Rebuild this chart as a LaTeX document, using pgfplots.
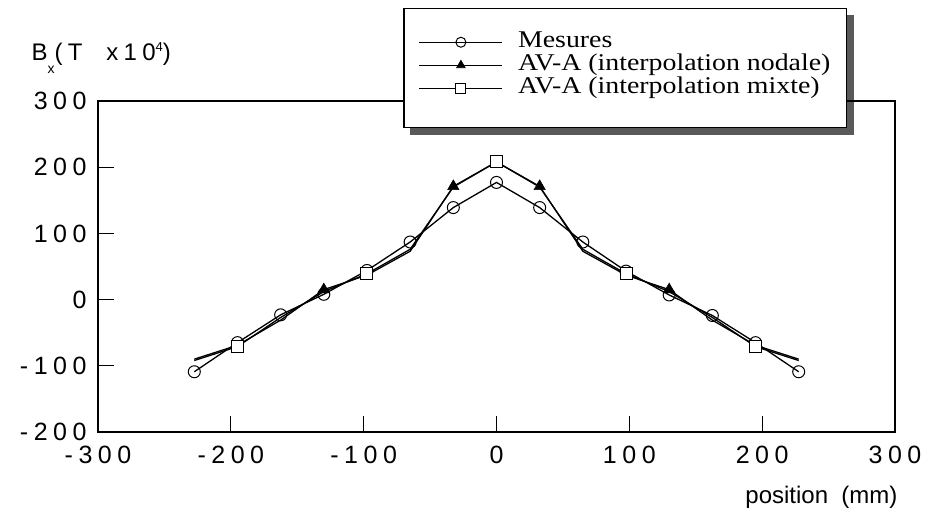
\documentclass[border=0pt]{standalone}
\usepackage{fontspec}
\setmainfont{Liberation Serif}
\newfontfamily\tickfont[LetterSpace=22]{Liberation Sans}
\newfontfamily\plainsans{Liberation Sans}
\newfontfamily\legfont[FakeStretch=1.16]{Liberation Serif}
\usepackage{pgfplots}
\pgfplotsset{compat=1.18}
\usetikzlibrary{backgrounds}

\pgfplotstableread{
x      y
-227.5 -109
-195   -65
-162.5 -23
-130   8
-97.5  44
-65    87
-32.5  139
0      177
32.5   139
65     87
97.5   43
130    7
162.5  -24
195    -65
227.5  -109
}\mesures

\pgfplotstableread{
x      y
-227.5 -90
-195   -69
-162.5 -31
-130   15
-97.5  37
-65    73
-32.5  171
0      208
32.5   171
65     73
97.5   37
130    15
162.5  -31
195    -69
227.5  -90
}\nodale

\pgfplotstableread{
x      y
-227.5 -92
-195   -71
-162.5 -27
-130   12
-97.5  39
-65    76
-32.5  170
0      208
32.5   170
65     76
97.5   39
130    12
162.5  -27
195    -71
227.5  -92
}\mixte

\begin{document}
\begin{tikzpicture}
\path[use as bounding box] (-98pt,-90pt) rectangle (832pt,432pt);
\begin{axis}[
  at={(0pt,0pt)}, anchor=south west,
  scale only axis, width=797pt, height=331pt,
  xmin=-300, xmax=300, ymin=-200, ymax=300,
  xtick={-300,-200,...,300}, ytick={-200,-100,...,300},
  xticklabels={-300,-200,-100,0,100,200,300},
  yticklabels={-200,-100,0,100,200,300},
  tick align=inside, xtick pos=bottom, ytick pos=left,
  major tick length=16pt,
  axis line style={line width=1.2pt},
  every tick/.style={line width=1pt, black},
  ticklabel style={font=\fontsize{25}{30}\selectfont\tickfont},
  xticklabel style={yshift=-11pt},
  yticklabel style={xshift=-8pt},
  every axis y label/.style={at={(axis description cs:0,1)}, anchor=base west, xshift=-70pt, yshift=41pt},
  ylabel={\tickfont\fontsize{24}{28}\selectfont B\raisebox{-13pt}{\fontsize{14}{14}\selectfont x}(T\ \ x10\raisebox{9pt}{\fontsize{13}{13}\selectfont 4})},
  every axis x label/.style={at={(axis description cs:1,0)}, anchor=north east, xshift=6pt, yshift=-51pt},
  xlabel={\plainsans\fontsize{24}{28}\selectfont position\ \ (mm)},
  legend style={name=leg, at={(axis description cs:0.3827,1.281)}, anchor=north west,
    draw=black, line width=1.5pt, fill=white,
    font=\legfont\fontsize{24}{28}\selectfont,
    inner xsep=15pt, inner ysep=22pt, row sep=0pt, column sep=14pt,
    nodes={inner sep=1pt, text height=16pt, text depth=5pt}},
  legend cell align=left,
  legend image code/.code={\draw[#1, mark indices={2}, mark size=5pt] plot coordinates {(0pt,0pt) (41.5pt,0pt) (83pt,0pt)};},
]
\addplot[black, line width=1.3pt, mark=o, mark size=6pt, mark options={fill=white, line width=1pt}] table {\mesures};
\addlegendentry{Mesures}
\addplot[black, line width=1.3pt, mark=triangle*, mark size=6.5pt, mark indices={4,7,9,12}, mark options={fill=black, line width=0.6pt}] table {\nodale};
\addlegendentry{AV-A (interpolation nodale)}
\addplot[black, line width=1.3pt, mark=square*, mark size=6pt, mark indices={2,5,8,11,14}, mark options={fill=white, line width=1pt}] table {\mixte};
\addlegendentry{AV-A (interpolation mixte)}
\addlegendimage{empty legend}
\addlegendentry[text height=0pt, text depth=4pt]{}
\end{axis}
\begin{scope}[on background layer]
\fill[black!65] ([xshift=7pt,yshift=-7pt]leg.north west) rectangle ([xshift=7pt,yshift=-7pt]leg.south east);
\end{scope}
\end{tikzpicture}
\end{document}
